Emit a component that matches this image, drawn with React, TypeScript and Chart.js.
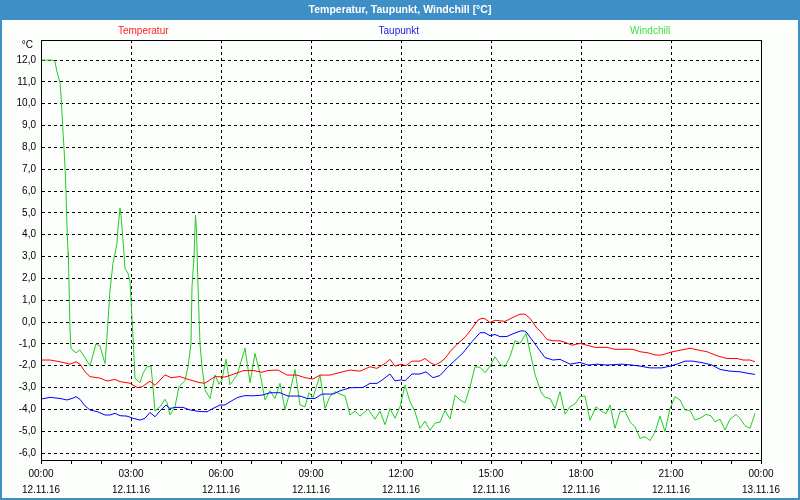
import React, { useEffect, useRef } from "react";
import { Chart, registerables } from "chart.js";

Chart.register(...registerables);

const chartTitle = "Temperatur, Taupunkt, Windchill [°C]";
const seriesNames = ["Temperatur", "Taupunkt", "Windchill"];
const yUnit = "°C";

const xTickTimes = ["00:00", "03:00", "06:00", "09:00", "12:00", "15:00", "18:00", "21:00", "00:00"];
const xTickDates = ["12.11.16", "12.11.16", "12.11.16", "12.11.16", "12.11.16", "12.11.16", "12.11.16", "12.11.16", "13.11.16"];

// minutes since 12.11.16 00:00
const tempMinutes = [0,18,38,58,70,78,88,98,118,132,148,158,178,192,202,218,228,248,260,278,296,318,328,348,368,384,404,424,442,454,474,492,512,528,544,558,578,598,618,638,658,672,688,698,708,720,730,742,758,768,778,788,798,808,820,834,848,862,874,882,888,898,908,928,942,958,968,978,992,998,1012,1024,1038,1048,1062,1078,1092,1108,1132,1148,1184,1198,1214,1228,1242,1258,1272,1288,1298,1314,1332,1354,1372,1392,1404,1418,1428];
const tempValues = [-1.74,-1.74,-1.82,-1.93,-1.82,-1.93,-2.28,-2.5,-2.57,-2.7,-2.63,-2.73,-2.8,-3.0,-2.97,-2.71,-2.9,-2.42,-2.55,-2.5,-2.64,-2.78,-2.8,-2.5,-2.52,-2.4,-2.23,-2.22,-2.3,-2.22,-2.2,-2.43,-2.43,-2.55,-2.61,-2.43,-2.43,-2.31,-2.2,-2.25,-2.05,-2.12,-1.9,-1.71,-2.02,-1.93,-2.0,-1.79,-1.79,-1.67,-1.85,-1.97,-1.85,-1.67,-1.3,-0.98,-0.7,-0.29,0.09,0.17,0.15,-0.02,0.08,0.03,0.19,0.36,0.36,0.17,-0.29,-0.4,-0.8,-0.86,-0.86,-0.93,-1.06,-0.98,-1.06,-1.16,-1.16,-1.25,-1.25,-1.36,-1.41,-1.51,-1.51,-1.39,-1.32,-1.25,-1.2,-1.28,-1.36,-1.56,-1.67,-1.67,-1.74,-1.74,-1.82];

const dewMinutes = [0,18,38,52,62,70,78,88,98,112,128,138,148,158,172,184,198,208,218,228,238,250,258,268,284,298,318,332,344,358,368,382,394,408,424,442,458,478,494,518,532,548,562,584,598,618,644,658,672,682,698,708,720,728,742,758,770,784,798,814,832,844,862,878,888,898,908,918,932,946,960,968,972,992,1008,1024,1038,1058,1078,1094,1112,1132,1162,1182,1198,1218,1242,1258,1272,1288,1304,1324,1342,1358,1378,1398,1414,1428];
const dewValues = [-3.53,-3.45,-3.5,-3.57,-3.5,-3.42,-3.54,-3.84,-4.03,-4.1,-4.26,-4.26,-4.18,-4.29,-4.31,-4.41,-4.49,-4.41,-4.14,-4.34,-4.07,-3.8,-3.96,-3.91,-3.91,-4.03,-4.1,-4.11,-3.96,-3.8,-3.8,-3.6,-3.45,-3.37,-3.38,-3.35,-3.24,-3.24,-3.39,-3.39,-3.5,-3.5,-3.3,-3.3,-3.15,-3.01,-3.0,-2.81,-2.81,-2.66,-2.38,-2.7,-2.65,-2.69,-2.38,-2.38,-2.28,-2.55,-2.45,-2.05,-1.67,-1.41,-0.9,-0.49,-0.49,-0.63,-0.57,-0.67,-0.66,-0.52,-0.4,-0.42,-0.5,-1.13,-1.63,-1.74,-1.71,-1.93,-1.85,-1.97,-1.93,-1.97,-1.93,-1.97,-2.02,-2.1,-2.1,-2.02,-1.93,-1.79,-1.79,-1.87,-1.97,-2.17,-2.25,-2.28,-2.35,-2.4];

const windMinutes = [0,24,28,32,38,40,42,44,46,48,50,52,54,55,58,60,70,78,98,110,118,128,132,138,144,152,154,158,160,164,168,174,178,184,188,198,204,212,220,222,228,238,248,252,258,268,276,288,294,300,302,306,309,311,314,318,322,328,338,348,356,362,370,378,392,408,418,428,438,448,458,468,478,488,498,508,518,528,536,544,558,568,578,588,598,608,618,628,638,654,668,678,688,698,708,718,728,738,748,758,768,778,788,798,808,818,828,838,848,858,868,878,888,898,908,918,928,938,948,958,970,978,988,1000,1008,1018,1028,1038,1048,1058,1068,1078,1088,1098,1110,1120,1130,1138,1148,1158,1168,1178,1188,1198,1208,1218,1228,1238,1248,1258,1268,1278,1288,1298,1308,1318,1330,1340,1348,1358,1368,1378,1390,1398,1408,1418,1428];
const windValues = [12.0,12.0,11.92,11.46,10.96,10.4,9.56,8.72,7.96,7.11,5.97,4.37,3.2,2.76,-0.37,-1.21,-1.41,-1.28,-2.0,-1.0,-1.1,-1.9,-0.67,1.46,2.69,3.6,4.3,5.22,4.9,3.75,2.46,2.23,1.84,-0.67,-2.58,-2.78,-2.35,-2.05,-2.02,-2.5,-4.08,-3.88,-3.54,-3.7,-4.26,-3.88,-2.96,-2.68,-2.05,-0.98,1.62,2.99,4.9,4.21,1.62,-1.0,-2.05,-3.1,-3.5,-2.42,-2.85,-2.63,-1.71,-2.87,-2.43,-1.2,-2.78,-1.44,-2.35,-3.56,-3.15,-3.5,-2.81,-4.0,-3.2,-2.17,-3.8,-3.88,-3.24,-3.45,-2.43,-3.96,-3.4,-3.19,-3.3,-3.39,-4.26,-4.08,-4.31,-3.99,-4.45,-4.08,-4.7,-3.96,-4.41,-3.88,-2.9,-3.65,-4.11,-4.87,-4.54,-4.96,-4.63,-4.58,-4.05,-4.44,-3.35,-3.57,-3.7,-2.96,-2.05,-2.07,-2.32,-2.02,-1.59,-1.93,-2.05,-1.59,-0.85,-0.98,-0.52,-1.36,-2.4,-3.2,-3.45,-3.5,-3.96,-3.19,-4.22,-3.88,-3.75,-3.42,-3.39,-4.5,-3.88,-4.07,-4.2,-3.8,-4.87,-4.11,-4.08,-4.57,-4.8,-5.33,-5.25,-5.43,-5.05,-4.31,-5.02,-3.96,-3.42,-3.57,-4.03,-4.05,-4.49,-4.41,-4.23,-4.3,-4.57,-4.45,-4.95,-4.45,-4.23,-4.41,-4.75,-4.87,-4.18];

const FONT = "'Liberation Sans', Arial, sans-serif";
const BLUE = "#3d8fc6";
const BG = "#fcfefc";
const lineColors = ["#ff0000", "#0000ff", "#22cc22"];
const legendColors = ["#ff2020", "#2020e0", "#40e040"];

function zip(xs: number[], ys: number[]) {
  const n = Math.min(xs.length, ys.length);
  const out: { x: number; y: number }[] = [];
  for (let i = 0; i < n; i++) out.push({ x: xs[i], y: ys[i] });
  return out;
}

const framePlugin = {
  id: "framePlugin",
  beforeDraw(chart: any) {
    const { ctx, width, height } = chart;
    ctx.save();
    ctx.fillStyle = BG;
    ctx.fillRect(0, 0, width, height);
    ctx.restore();
  },
  afterDraw(chart: any) {
    const { ctx, width, height, chartArea } = chart;
    ctx.save();
    // title bar
    ctx.fillStyle = BLUE;
    ctx.fillRect(0, 0, width, 20);
    ctx.fillStyle = "#ffffff";
    ctx.font = `bold 10.5px ${FONT}`;
    ctx.textAlign = "center";
    ctx.textBaseline = "middle";
    ctx.fillText(chartTitle, width / 2, 10);
    // outer border
    ctx.strokeStyle = BLUE;
    ctx.lineWidth = 2;
    ctx.beginPath();
    ctx.moveTo(1, 20);
    ctx.lineTo(1, height - 1);
    ctx.lineTo(width - 1, height - 1);
    ctx.lineTo(width - 1, 20);
    ctx.stroke();
    // chart area frame
    ctx.strokeStyle = "#000";
    ctx.lineWidth = 1;
    ctx.strokeRect(
      Math.round(chartArea.left) + 0.5,
      Math.round(chartArea.top) + 0.5,
      Math.round(chartArea.right - chartArea.left),
      Math.round(chartArea.bottom - chartArea.top)
    );
    // legend
    const w = chartArea.right - chartArea.left;
    const fr = [0.142, 0.497, 0.846];
    ctx.font = `10px ${FONT}`;
    seriesNames.forEach((name, i) => {
      ctx.fillStyle = legendColors[i];
      ctx.fillText(name, chartArea.left + w * fr[i], 31);
    });
    // unit
    ctx.fillStyle = "#000";
    ctx.textAlign = "right";
    ctx.fillText(yUnit, 33, 45);
    ctx.restore();
  },
};

export default function App() {
  const ref = useRef<HTMLCanvasElement>(null);
  useEffect(() => {
    document.body.style.margin = "0";
    const canvas = ref.current!;
    const chart = new Chart(canvas, {
      type: "line",
      data: {
        datasets: [
          { label: seriesNames[0], data: zip(tempMinutes, tempValues), borderColor: lineColors[0] },
          { label: seriesNames[1], data: zip(dewMinutes, dewValues), borderColor: lineColors[1] },
          { label: seriesNames[2], data: zip(windMinutes, windValues), borderColor: lineColors[2] },
        ],
      },
      options: {
        responsive: false,
        animation: false,
        devicePixelRatio: 1,
        layout: { padding: { top: 40, right: 39, left: 0, bottom: 0 } },
        elements: {
          point: { radius: 0, hoverRadius: 0 },
          line: { borderWidth: 1, tension: 0, fill: false },
        },
        plugins: {
          legend: { display: false },
          title: { display: false },
          tooltip: { enabled: false },
        },
        events: [],
        scales: {
          x: {
            type: "linear",
            min: 0,
            max: 1440,
            afterFit(scale: any) {
              scale.height = 40;
            },
            border: { display: true, color: "#000", width: 1, dash: [3, 3] },
            grid: {
              color: (c: any) => (c.tick && c.tick.value % 180 === 0 ? "#000" : "rgba(0,0,0,0)"),
              tickColor: "#000",
              tickLength: 4,
              lineWidth: 1,
            },
            ticks: {
              stepSize: 60,
              autoSkip: false,
              maxRotation: 0,
              padding: 2,
              color: "#000",
              font: { family: FONT, size: 10, lineHeight: "16px" },
              callback: (v: any) => {
                const n = Number(v);
                if (n % 180 !== 0) return "";
                const i = n / 180;
                return [xTickTimes[i], xTickDates[i]];
              },
            },
          },
          y: {
            min: -6.32,
            max: 12.92,
            afterFit(scale: any) {
              scale.width = 41;
            },
            border: { display: true, color: "#000", width: 1, dash: [3, 3] },
            grid: { color: "#000", lineWidth: 1, drawTicks: false },
            ticks: {
              stepSize: 1,
              includeBounds: false,
              padding: 5,
              color: "#000",
              font: { family: FONT, size: 10 },
              callback: (v: any) => Number(v).toFixed(1).replace(".", ","),
            },
          },
        },
      },
      plugins: [framePlugin],
    } as any);
    return () => chart.destroy();
  }, []);
  return (
    <div style={{ position: "absolute", left: 0, top: 0, width: 800, height: 500 }}>
      <canvas ref={ref} width={800} height={500} style={{ width: 800, height: 500, display: "block" }} />
    </div>
  );
}
